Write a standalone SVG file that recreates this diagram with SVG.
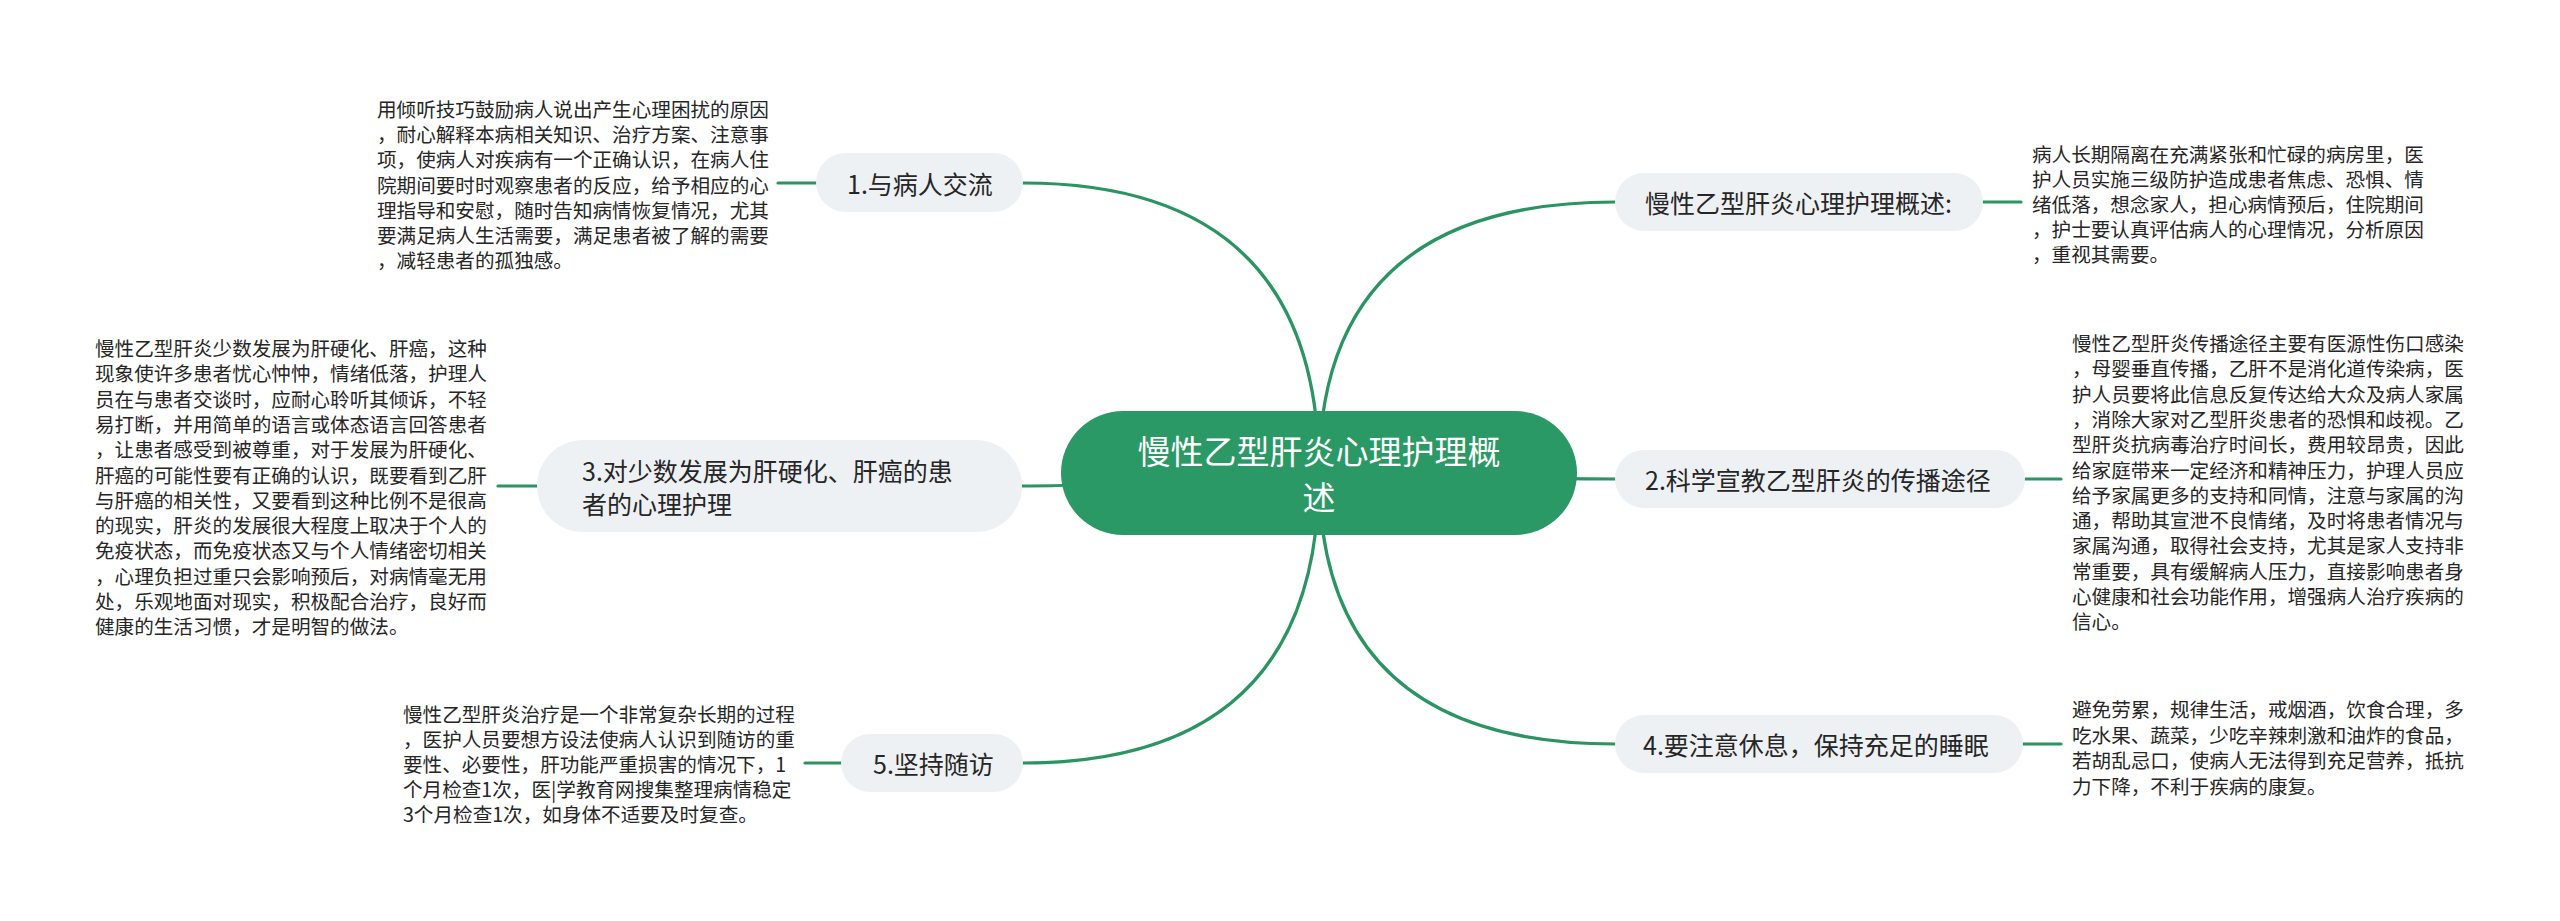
<svg xmlns="http://www.w3.org/2000/svg" width="2560" height="921" viewBox="0 0 2560 921">
<style>
.edge{fill:none;stroke:#2a9463;stroke-width:3.2;stroke-linecap:round}
.node{fill:#eef1f4}
.lbl{font-family:"Noto Sans CJK SC","Noto Sans",sans-serif;font-size:25px;fill:#262626;dominant-baseline:central}
.leaf{font-family:"Noto Sans CJK SC","Noto Sans",sans-serif;font-size:19.6px;fill:#262626;dominant-baseline:central}
.root{font-family:"Noto Sans CJK SC","Noto Sans",sans-serif;font-size:33px;fill:#ffffff;dominant-baseline:central}
</style>
<rect width="2560" height="921" fill="#ffffff"/>
<g id="connectors">
<path class="edge" d="M1319 473 Q1319 183 1023 183"/>
<path class="edge" d="M1319 473 Q1319 202 1615 202"/>
<path class="edge" d="M1319 473 Q1100 486 1022 486"/>
<path class="edge" d="M1319 473 Q1540 479 1615 479"/>
<path class="edge" d="M1319 473 Q1319 744 1615 744"/>
<path class="edge" d="M1319 473 Q1319 763 1023 763"/>
<path class="edge" d="M778 183 H816"/>
<path class="edge" d="M1983 202 H2021"/>
<path class="edge" d="M498 486 H537"/>
<path class="edge" d="M2025 479 H2061"/>
<path class="edge" d="M2023 744 H2061"/>
<path class="edge" d="M805 763 H841"/>
</g>
<g id="root">
<rect x="1061" y="411" width="516" height="124" rx="62" fill="#2a9966"/>
<text class="root" text-anchor="middle"><tspan x="1319" y="450">慢性乙型肝炎心理护理概</tspan><tspan x="1319" y="496">述</tspan></text>
</g>
<g id="n1">
<rect class="node" x="816" y="153" width="207" height="59" rx="29.5"/>
<text class="lbl" x="847" y="183">1.与病人交流</text>
</g>
<g id="n1-leaf">
<text class="leaf"><tspan x="377" y="108">用倾听技巧鼓励病人说出产生心理困扰的原因</tspan><tspan x="377" y="133.2">，耐心解释本病相关知识、治疗方案、注意事</tspan><tspan x="377" y="158.4">项，使病人对疾病有一个正确认识，在病人住</tspan><tspan x="377" y="183.6">院期间要时时观察患者的反应，给予相应的心</tspan><tspan x="377" y="208.8">理指导和安慰，随时告知病情恢复情况，尤其</tspan><tspan x="377" y="234">要满足病人生活需要，满足患者被了解的需要</tspan><tspan x="377" y="259.2">，减轻患者的孤独感。</tspan></text>
</g>
<g id="n0">
<rect class="node" x="1615" y="173" width="368" height="58" rx="29"/>
<text class="lbl" x="1645" y="202">慢性乙型肝炎心理护理概述:</text>
</g>
<g id="n0-leaf">
<text class="leaf"><tspan x="2032" y="153">病人长期隔离在充满紧张和忙碌的病房里，医</tspan><tspan x="2032" y="178">护人员实施三级防护造成患者焦虑、恐惧、情</tspan><tspan x="2032" y="203">绪低落，想念家人，担心病情预后，住院期间</tspan><tspan x="2032" y="228">，护士要认真评估病人的心理情况，分析原因</tspan><tspan x="2032" y="253">，重视其需要。</tspan></text>
</g>
<g id="n3">
<rect class="node" x="537" y="440" width="485" height="92" rx="46"/>
<text class="lbl"><tspan x="582" y="470">3.对少数发展为肝硬化、肝癌的患</tspan><tspan x="582" y="503">者的心理护理</tspan></text>
</g>
<g id="n3-leaf">
<text class="leaf"><tspan x="95" y="347">慢性乙型肝炎少数发展为肝硬化、肝癌，这种</tspan><tspan x="95" y="372.3">现象使许多患者忧心忡忡，情绪低落，护理人</tspan><tspan x="95" y="397.6">员在与患者交谈时，应耐心聆听其倾诉，不轻</tspan><tspan x="95" y="422.9">易打断，并用简单的语言或体态语言回答患者</tspan><tspan x="95" y="448.2">，让患者感受到被尊重，对于发展为肝硬化、</tspan><tspan x="95" y="473.5">肝癌的可能性要有正确的认识，既要看到乙肝</tspan><tspan x="95" y="498.8">与肝癌的相关性，又要看到这种比例不是很高</tspan><tspan x="95" y="524.1">的现实，肝炎的发展很大程度上取决于个人的</tspan><tspan x="95" y="549.4">免疫状态，而免疫状态又与个人情绪密切相关</tspan><tspan x="95" y="574.7">，心理负担过重只会影响预后，对病情毫无用</tspan><tspan x="95" y="600">处，乐观地面对现实，积极配合治疗，良好而</tspan><tspan x="95" y="625.3">健康的生活习惯，才是明智的做法。</tspan></text>
</g>
<g id="n2">
<rect class="node" x="1615" y="450" width="410" height="58" rx="29"/>
<text class="lbl" x="1645" y="479">2.科学宣教乙型肝炎的传播途径</text>
</g>
<g id="n2-leaf">
<text class="leaf"><tspan x="2072" y="342">慢性乙型肝炎传播途径主要有医源性伤口感染</tspan><tspan x="2072" y="367.3">，母婴垂直传播，乙肝不是消化道传染病，医</tspan><tspan x="2072" y="392.6">护人员要将此信息反复传达给大众及病人家属</tspan><tspan x="2072" y="417.9">，消除大家对乙型肝炎患者的恐惧和歧视。乙</tspan><tspan x="2072" y="443.2">型肝炎抗病毒治疗时间长，费用较昂贵，因此</tspan><tspan x="2072" y="468.5">给家庭带来一定经济和精神压力，护理人员应</tspan><tspan x="2072" y="493.8">给予家属更多的支持和同情，注意与家属的沟</tspan><tspan x="2072" y="519.1">通，帮助其宣泄不良情绪，及时将患者情况与</tspan><tspan x="2072" y="544.4">家属沟通，取得社会支持，尤其是家人支持非</tspan><tspan x="2072" y="569.7">常重要，具有缓解病人压力，直接影响患者身</tspan><tspan x="2072" y="595">心健康和社会功能作用，增强病人治疗疾病的</tspan><tspan x="2072" y="620.3">信心。</tspan></text>
</g>
<g id="n4">
<rect class="node" x="1615" y="715" width="408" height="58" rx="29"/>
<text class="lbl" x="1643" y="744">4.要注意休息，保持充足的睡眠</text>
</g>
<g id="n4-leaf">
<text class="leaf"><tspan x="2072" y="708">避免劳累，规律生活，戒烟酒，饮食合理，多</tspan><tspan x="2072" y="733.5">吃水果、蔬菜，少吃辛辣刺激和油炸的食品，</tspan><tspan x="2072" y="759">若胡乱忌口，使病人无法得到充足营养，抵抗</tspan><tspan x="2072" y="784.5">力下降，不利于疾病的康复。</tspan></text>
</g>
<g id="n5">
<rect class="node" x="841" y="734" width="182" height="58" rx="29"/>
<text class="lbl" x="873" y="763">5.坚持随访</text>
</g>
<g id="n5-leaf">
<text class="leaf"><tspan x="403" y="713">慢性乙型肝炎治疗是一个非常复杂长期的过程</tspan><tspan x="403" y="738">，医护人员要想方设法使病人认识到随访的重</tspan><tspan x="403" y="763">要性、必要性，肝功能严重损害的情况下，1</tspan><tspan x="403" y="788">个月检查1次，医|学教育网搜集整理病情稳定</tspan><tspan x="403" y="813">3个月检查1次，如身体不适要及时复查。</tspan></text>
</g>
</svg>
